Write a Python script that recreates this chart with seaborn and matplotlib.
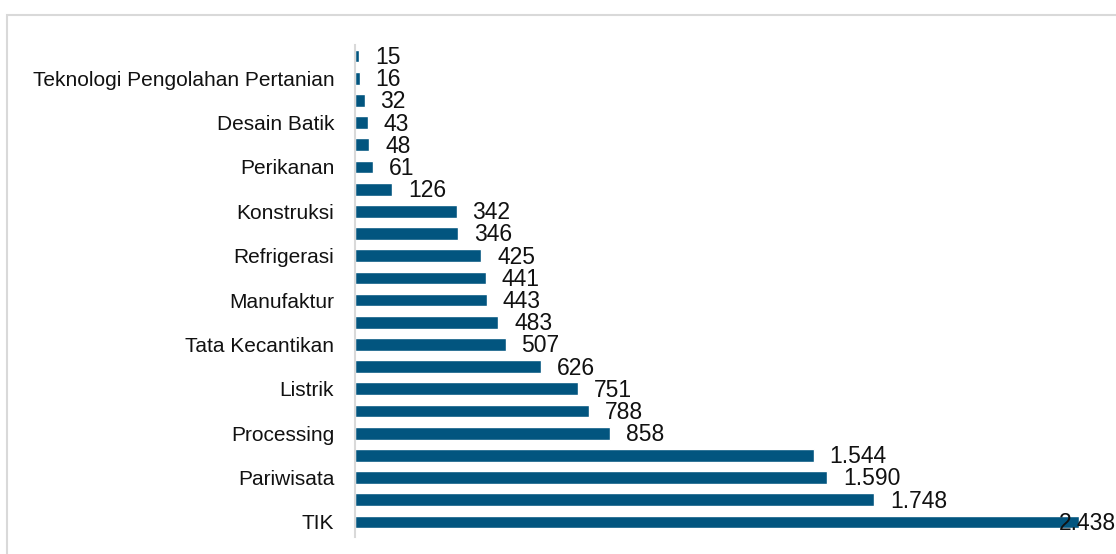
import seaborn as sns
import pandas as pd
from matplotlib import pyplot as plt
from matplotlib.patches import Rectangle

# bars listed top to bottom; only every other bar carries a visible label
categories = ['k01', 'Teknologi Pengolahan Pertanian', 'k03', 'Desain Batik', 'k05', 'Perikanan',
              'k07', 'Konstruksi', 'k09', 'Refrigerasi', 'k11', 'Manufaktur', 'k13',
              'Tata Kecantikan', 'k15', 'Listrik', 'k17', 'Processing', 'k19', 'Pariwisata',
              'k21', 'TIK']
values = [15, 16, 32, 43, 48, 61, 126, 342, 346, 425, 441, 443, 483, 507, 626, 751,
          788, 858, 1544, 1590, 1748, 2438]
tick_labels = [c if not c.startswith('k') or c == 'Konstruksi' else '' for c in categories]

BAR_COLOR = '#02557f'


def fmt(v: int) -> str:
    return f'{v:,}'.replace(',', '.')


def plot_bars(df: pd.DataFrame):
    sns.set_theme(style="white")
    plt.rcParams['font.family'] = ['Liberation Sans', 'DejaVu Sans']
    fig = plt.figure(figsize=(11.16, 5.54), dpi=100)
    # light grey outer frame (right/bottom edges fall outside the picture)
    fig.patches.append(Rectangle((7 / 1116, -0.2), 1.3, 1.2 - 15 / 554, transform=fig.transFigure,
                                 fill=False, edgecolor='#d9d9d9', linewidth=1.5))
    ax = fig.add_axes([355 / 1116, 1 - 533 / 554, (1116 - 355) / 1116, 488 / 554])
    sns.barplot(x='value', y='category', data=df, orient='h', color=BAR_COLOR,
                saturation=1, width=0.57, ax=ax)
    ax.set_xlim(0, 761 / 0.297)
    ax.set_ylim(len(df) - 0.5, -0.5)
    ax.set_yticks(range(len(df)))
    ax.set_yticklabels(tick_labels, fontsize=15)
    ax.tick_params(axis='y', length=0, pad=15, colors='#111111')
    ax.set_xticks([])
    ax.set_xlabel('')
    ax.set_ylabel('')
    for side in ['top', 'right', 'bottom']:
        ax.spines[side].set_visible(False)
    ax.spines['left'].set_color('#d9d9d9')
    ax.spines['left'].set_linewidth(1.5)
    ax.spines['left'].set_bounds(len(df) - 0.3, -0.5)
    vmax = df['value'].max()
    for i, v in enumerate(df['value']):
        off = -14.5 if v == vmax else 11.5
        ax.annotate(fmt(v), xy=(v, i), xytext=(off, -1), textcoords='offset points',
                    ha='left', va='center', fontsize=16.5, color='#111111',
                    annotation_clip=False)
    fig.savefig('out.png', dpi=100)


if __name__ == '__main__':
    df = pd.DataFrame({'category': categories, 'value': values})
    plot_bars(df)
